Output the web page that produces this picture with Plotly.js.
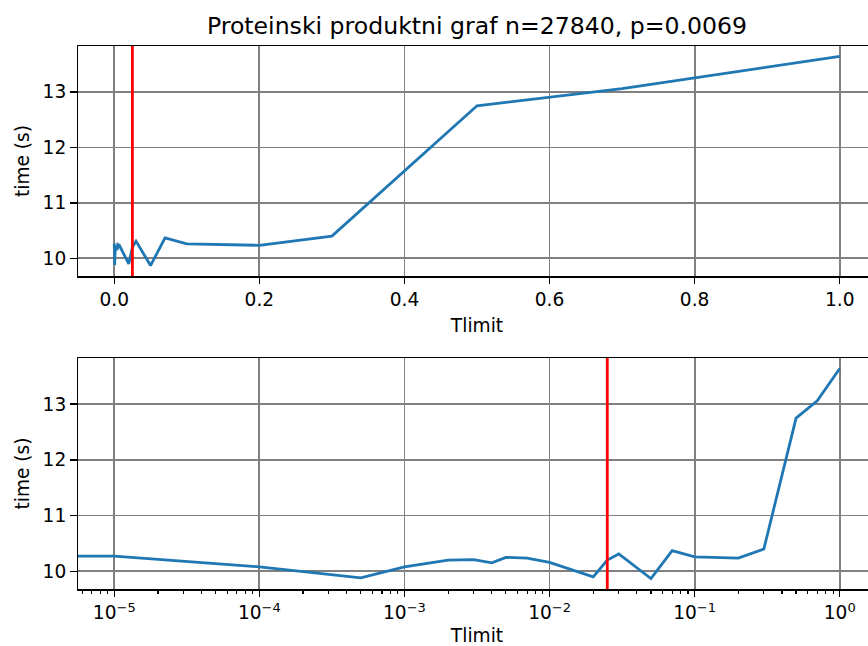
<!DOCTYPE html>
<html>
<head>
<meta charset="utf-8">
<script src="https://cdn.plot.ly/plotly-3.0.1.min.js"></script>
<style>
html, body { margin: 0; padding: 0; overflow: hidden; background: #fff; }
#chart { width: 877px; height: 646px; }
</style>
</head>
<body>
<div id="chart"></div>
<script>
// ---- data ----
const tlimit = [0, 1e-5, 1e-4, 5e-4, 1e-3, 2e-3, 3e-3, 4e-3, 5e-3, 7e-3, 1e-2, 2e-2, 0.025, 3e-2, 5e-2, 7e-2, 0.1, 0.2, 0.3, 0.5, 0.7, 1.0];
const timeS  = [10.27, 10.27, 10.08, 9.88, 10.08, 10.20, 10.21, 10.15, 10.25, 10.235, 10.16, 9.90, 10.20, 10.31, 9.87, 10.37, 10.26, 10.235, 10.40, 12.75, 13.06, 13.64];
const redLineX = 0.025;
const titleText = "Proteinski produktni graf n=27840, p=0.0069";
const xLabel = "Tlimit";
const yLabel = "time (s)";
const linTickVals = [0, 0.2, 0.4, 0.6, 0.8, 1.0];
const linTickText = ["0.0", "0.2", "0.4", "0.6", "0.8", "1.0"];
const yTickVals = [10, 11, 12, 13];
const logTickVals = [1e-5, 1e-4, 1e-3, 1e-2, 1e-1, 1];
const logTickText = ["10<sup>−5</sup>", "10<sup>−4</sup>", "10<sup>−3</sup>", "10<sup>−2</sup>", "10<sup>−1</sup>", "10<sup>0</sup>"];

// ---- helpers (axis limits like matplotlib's 5% margins) ----
const FONT = "DejaVu Sans";
const ymin = Math.min(...timeS), ymax = Math.max(...timeS);
const ypad = (ymax - ymin) * 0.05;
const yRange = [ymin - ypad, ymax + ypad];
const xmin = Math.min(...tlimit), xmax = Math.max(...tlimit);
const xpad = (xmax - xmin) * 0.05;
const pos = tlimit.filter(v => v > 0);
const lmin = Math.log10(Math.min(...pos)), lmax = Math.log10(Math.max(...pos));
const lpad = (lmax - lmin) * 0.05;
// nonpositive values clipped to a tiny value on the log axis (like matplotlib)
const tlimitLog = tlimit.map(v => v > 0 ? v : Math.pow(10, lmin - 3));
const minorVals = [];
for (let e = -6; e <= 0; e++) for (let m = 2; m <= 9; m++) minorVals.push(m * Math.pow(10, e));

const H = 646;
const blue = "#1f77b4";

const commonAxis = {
  showline: true, linecolor: "black", linewidth: 1.5, mirror: true,
  ticks: "outside", ticklen: 6.5, tickwidth: 1.5, tickcolor: "black",
  showgrid: true, gridcolor: "#808080", gridwidth: 1.8,
  zeroline: false,
  tickfont: { family: FONT, size: 18.6, color: "black" },
  automargin: false
};

const traces = [
  { x: tlimit, y: timeS, xaxis: "x", yaxis: "y", type: "scatter", mode: "lines",
    line: { color: blue, width: 2.8 }, hoverinfo: "x+y" },
  { x: tlimitLog, y: timeS, xaxis: "x2", yaxis: "y2", type: "scatter", mode: "lines",
    line: { color: blue, width: 2.8 }, hoverinfo: "x+y" }
];

const layout = {
  width: 877, height: H,
  margin: { l: 78, r: 1, t: 0, b: 0 },
  paper_bgcolor: "white", plot_bgcolor: "white",
  showlegend: false,
  font: { family: FONT, color: "black" },
  title: { text: titleText, font: { family: FONT, size: 23.6, color: "black" },
           x: 0.5, xref: "paper", xanchor: "center", y: 1 - 25.5 / H, yref: "container", yanchor: "middle" },
  xaxis: Object.assign({}, commonAxis, {
    anchor: "y", range: [xmin - xpad, xmax + xpad], domain: [0, 1],
    tickmode: "array", tickvals: linTickVals, ticktext: linTickText,
    title: { text: xLabel, font: { family: FONT, size: 18.6, color: "black" }, standoff: 9 }
  }),
  yaxis: Object.assign({}, commonAxis, {
    anchor: "x", domain: [1 - 276 / H, 1 - 46 / H], range: yRange,
    tickmode: "array", tickvals: yTickVals,
    title: { text: yLabel, font: { family: FONT, size: 18.6, color: "black" }, standoff: 8 }
  }),
  xaxis2: Object.assign({}, commonAxis, {
    anchor: "y2", type: "log", range: [lmin - lpad, lmax + lpad], domain: [0, 1],
    tickmode: "array", tickvals: logTickVals, ticktext: logTickText,
    minor: { tickmode: "array", tickvals: minorVals, ticks: "outside", ticklen: 3.8, tickwidth: 1.1, tickcolor: "black", showgrid: false },
    title: { text: xLabel, font: { family: FONT, size: 18.6, color: "black" }, standoff: 11 }
  }),
  yaxis2: Object.assign({}, commonAxis, {
    anchor: "x2", domain: [1 - 589 / H, 1 - 358 / H], range: yRange,
    tickmode: "array", tickvals: yTickVals,
    title: { text: yLabel, font: { family: FONT, size: 18.6, color: "black" }, standoff: 8 }
  }),
  shapes: [
    { type: "line", xref: "x", yref: "y domain", x0: redLineX, x1: redLineX, y0: 0, y1: 1,
      line: { color: "red", width: 2.8 }, layer: "above" },
    { type: "line", xref: "x2", yref: "y2 domain", x0: redLineX, x1: redLineX, y0: 0, y1: 1,
      line: { color: "red", width: 2.8 }, layer: "above" }
  ]
};

Plotly.newPlot("chart", traces, layout, { displayModeBar: false, staticPlot: true });
</script>
</body>
</html>
